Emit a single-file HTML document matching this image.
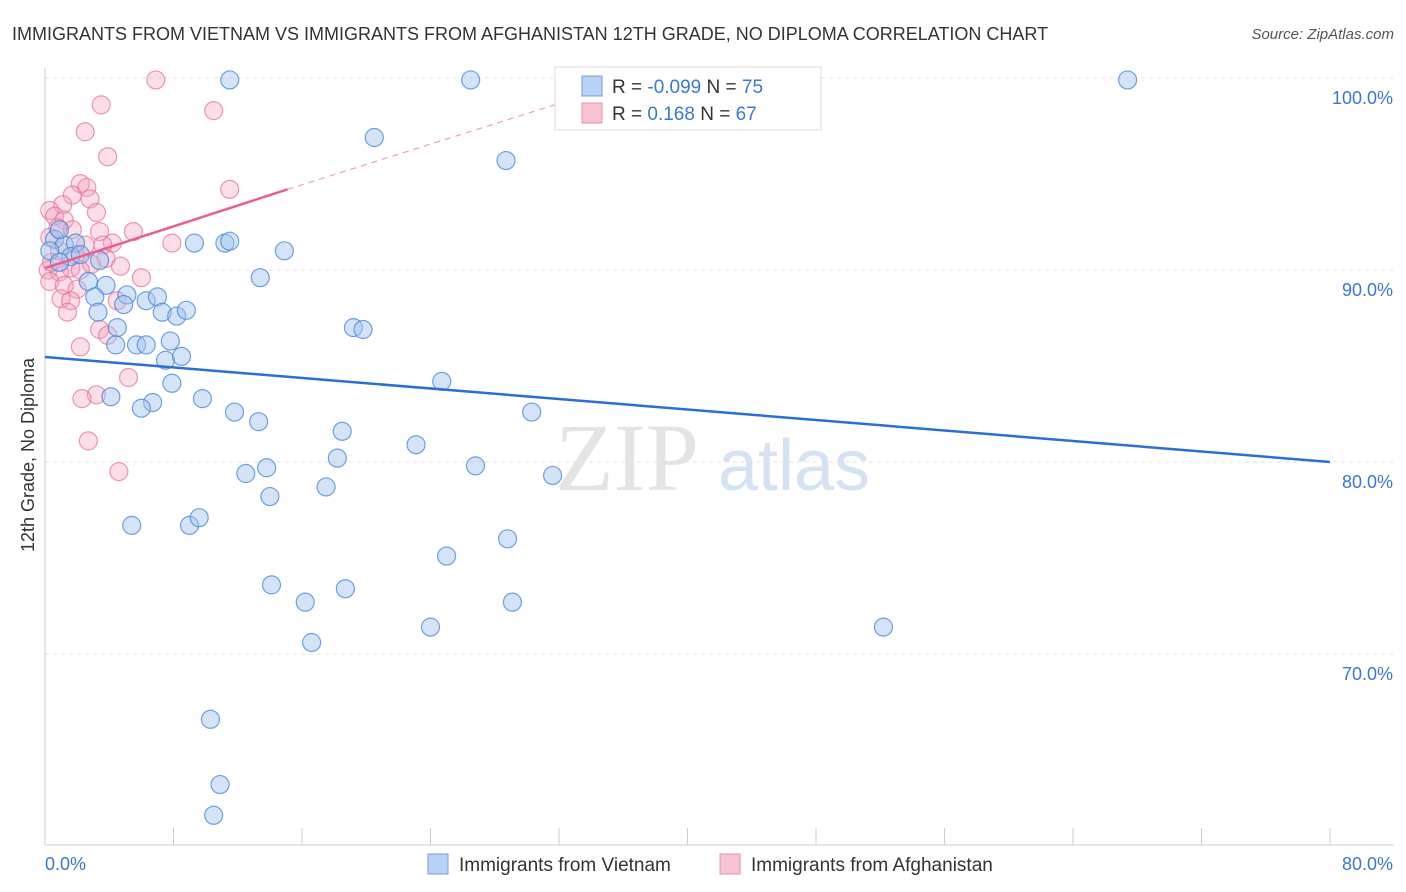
<!DOCTYPE html>
<html><head><meta charset="utf-8"><style>
body{margin:0;background:#fff;font-family:"Liberation Sans",sans-serif;}
svg{display:block}
</style></head><body>
<svg id="chart" width="1406" height="892" xmlns="http://www.w3.org/2000/svg">
<text x="12" y="40" font-size="18" fill="#333">IMMIGRANTS FROM VIETNAM VS IMMIGRANTS FROM AFGHANISTAN 12TH GRADE, NO DIPLOMA CORRELATION CHART</text>
<text x="1394" y="39" font-size="15" fill="#555" text-anchor="end" font-style="italic">Source: ZipAtlas.com</text>
<text transform="translate(34,455) rotate(-90)" font-size="18" fill="#333" text-anchor="middle">12th Grade, No Diploma</text>
<text x="555" y="490" font-size="96" fill="#e4e4e4" font-family="Liberation Serif">ZIP</text>
<text x="718" y="490" font-size="72" fill="#d4e2f4">atlas</text>
<g id="grid"></g><g id="axes"></g><g id="pinkpts"></g><g id="bluepts"></g><g id="lines"></g>
<g>
<rect x="555" y="67" width="266" height="63" fill="#fff" stroke="#ddd"/>
<rect x="582" y="76" width="20" height="20" fill="#b8d2f5" stroke="#6d9fe0"/>
<rect x="582" y="103" width="20" height="20" fill="#f8c4d4" stroke="#e890ae"/>
<text x="612" y="93" font-size="19" fill="#333">R = <tspan fill="#3a78d0">-0.099</tspan>   N = <tspan fill="#3a78d0">75</tspan></text>
<text x="612" y="120" font-size="19" fill="#333">R =   <tspan fill="#3a78d0">0.168</tspan>   N = <tspan fill="#3a78d0">67</tspan></text>
</g>
<g>
<rect x="428" y="854" width="20" height="20" fill="#b8d2f5" stroke="#6d9fe0"/>
<text x="459" y="871" font-size="19" fill="#333">Immigrants from Vietnam</text>
<rect x="720" y="854" width="20" height="20" fill="#f8c4d4" stroke="#e890ae"/>
<text x="751" y="871" font-size="19" fill="#333">Immigrants from Afghanistan</text>
</g>
</svg>
<script>
const yTicks=[70,80,90,100];
const xTickLabels=["0.0%","80.0%"];
const blueX=[11.5,26.5,67.4,20.5,28.7,9.3,11.2,11.5,14.9,13.4,0.6,1.2,1.9,1.6,2.2,3.4,2.7,3.8,3.1,5.1,4.9,6.3,7.0,3.3,7.3,8.2,8.8,4.5,4.4,5.7,6.3,7.8,7.5,8.5,19.2,19.8,7.9,4.1,6.7,6.0,9.8,11.8,13.3,24.7,30.3,18.5,23.1,18.2,26.8,13.8,12.5,31.6,17.5,14.0,5.4,9.0,9.6,28.8,25.0,14.1,18.7,16.2,29.1,24.0,52.2,16.6,10.3,10.9,10.5,43.3,0.9,0.3,0.9];
const blueY=[99.9,99.9,99.9,96.9,95.7,91.4,91.4,91.5,91.0,89.6,91.6,91.3,91.4,90.7,90.8,90.5,89.4,89.2,88.6,88.7,88.2,88.4,88.6,87.8,87.8,87.6,87.9,87.0,86.1,86.1,86.1,86.3,85.3,85.5,87.0,86.9,84.1,83.4,83.1,82.8,83.3,82.6,82.1,84.2,82.6,81.6,80.9,80.2,79.8,79.7,79.4,79.3,78.7,78.2,76.7,76.7,77.1,76.0,75.1,73.6,73.4,72.7,72.7,71.4,71.4,70.6,66.6,63.2,61.6,99.9,92.1,91.0,90.4];
const pinkX=[6.9,10.5,3.5,2.5,3.9,11.5,2.2,2.6,1.7,2.8,1.1,0.3,3.2,0.6,1.2,5.5,3.4,1.7,0.3,7.9,4.2,3.6,2.5,0.9,3.8,2.9,4.7,1.6,0.2,0.9,2.2,6.0,0.3,1.2,2.0,4.5,1.0,1.6,1.4,3.4,3.9,2.2,5.2,3.2,2.3,2.7,4.6,0.4,0.8,1.9];
const pinkY=[99.9,98.3,98.6,97.2,95.9,94.2,94.5,94.3,93.9,93.7,93.4,93.1,93.0,92.8,92.6,92.0,92.0,92.1,91.7,91.4,91.4,91.3,91.3,91.0,90.6,90.3,90.2,90.1,90.0,89.9,90.0,89.6,89.4,89.2,89.0,88.4,88.5,88.4,87.8,86.9,86.6,86.0,84.4,83.5,83.3,81.1,79.5,90.4,92.2,90.8];
const blueTrend=[85.47,80.0];
const pinkTrend=[90.1,94.2,98.7];
const pinkTrendX=[0,15.1,32.1];
const NS="http://www.w3.org/2000/svg";
const sx=v=>45+v/80*1285;
const sy=v=>78+(100-v)*19.2;
function mk(tag,attrs,parent){const e=document.createElementNS(NS,tag);for(const k in attrs)e.setAttribute(k,attrs[k]);parent.appendChild(e);return e;}
const grid=document.getElementById('grid'),axes=document.getElementById('axes');
yTicks.forEach(t=>{
 const l=mk('line',{x1:45,x2:1394,y1:sy(t),y2:sy(t),stroke:'#e2e2e2','stroke-dasharray':'4,4'},grid);
 
 
 const tx=mk('text',{x:1393,y:sy(t)+26,'font-size':18,fill:'#3a78d0','text-anchor':'end'},axes);
 tx.textContent=t.toFixed(1)+'%';
 
 
});
const ax=mk('line',{x1:45,x2:45,y1:68,y2:845,stroke:'#ccc'},axes);


const bx=mk('line',{x1:45,x2:1394,y1:845,y2:845,stroke:'#ccc'},axes);


for(let i=0;i<=10;i++){const t=mk('line',{x1:sx(i*8),x2:sx(i*8),y1:828,y2:845,stroke:'#ccc'},axes);
 
 }
[[0,'start',45],[80,'end',1393]].forEach((d,i)=>{const t=mk('text',{x:d[2],y:870,'font-size':18,fill:'#3a78d0','text-anchor':d[1]},axes);t.textContent=xTickLabels[i];
 
 });
const pg=document.getElementById('pinkpts');
pinkX.forEach((x,i)=>{const c=mk('circle',{cx:sx(x),cy:sy(pinkY[i]),r:9,fill:'rgba(244,160,188,0.35)',stroke:'rgba(226,110,150,0.7)','stroke-width':1.2},pg);
 
 });
const bg=document.getElementById('bluepts');
blueX.forEach((x,i)=>{const c=mk('circle',{cx:sx(x),cy:sy(blueY[i]),r:9,fill:'rgba(160,196,240,0.45)',stroke:'rgba(70,130,215,0.75)','stroke-width':1.2},bg);
 
 });
const lg=document.getElementById('lines');
const b=mk('line',{x1:sx(0),y1:sy(blueTrend[0]),x2:sx(80),y2:sy(blueTrend[1]),stroke:'#2a6fd6','stroke-width':2.5},lg);


const p=mk('line',{x1:sx(pinkTrendX[0]),y1:sy(pinkTrend[0]),x2:sx(pinkTrendX[1]),y2:sy(pinkTrend[1]),stroke:'#e8608e','stroke-width':2.5},lg);


const pd=mk('line',{x1:sx(pinkTrendX[1]),y1:sy(pinkTrend[1]),x2:sx(pinkTrendX[2]),y2:sy(pinkTrend[2]),stroke:'#eaa0ba','stroke-width':1.2,'stroke-dasharray':'6,5'},lg);


</script>
</body></html>
